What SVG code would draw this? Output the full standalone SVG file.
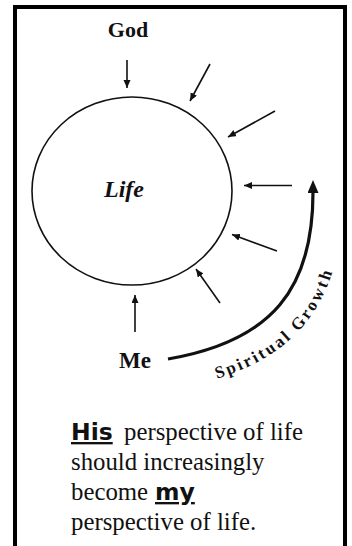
<svg xmlns="http://www.w3.org/2000/svg" width="352" height="546" viewBox="0 0 352 546">
  <style>
    .serifb { font-family: "Liberation Serif", Tinos, "Times New Roman", Times, "DejaVu Serif", serif; font-weight: bold; fill: #111; }
    .serif { font-family: "Liberation Serif", Tinos, "Times New Roman", Times, "DejaVu Serif", serif; fill: #111; font-size: 24.8px; }
    .sansb { font-family: "DejaVu Sans", "Liberation Sans", sans-serif; font-weight: bold; fill: #111; font-size: 23.5px; text-decoration: underline; }
    .conn { stroke: #111; stroke-width: 1.6; fill: none; marker-end: url(#ah); }
  </style>
  <defs>
    <marker id="ah" markerUnits="userSpaceOnUse" markerWidth="9" markerHeight="8" refX="8" refY="3.5" orient="auto">
      <path d="M0,0 L8,3.5 L0,7 z" fill="#111"/>
    </marker>
    <marker id="bigah" markerUnits="userSpaceOnUse" markerWidth="14" markerHeight="12" refX="1" refY="5.5" orient="auto">
      <path d="M0,0 L13,5.5 L0,11 z" fill="#111"/>
    </marker>
    <path id="sgpath" d="M173 389 C290 369 343 310 343 193"/>
  </defs>
  <rect width="352" height="546" fill="#fff"/>
  <path d="M15 546 V7 H345 V546" fill="none" stroke="#000" stroke-width="4"/>

  <g id="god">
    <text class="serifb" x="128" y="37" font-size="22" text-anchor="middle">God</text>
  </g>

  <g id="life">
    <ellipse cx="132" cy="191" rx="100" ry="94" fill="none" stroke="#111" stroke-width="1.6"/>
    <text class="serifb" x="124" y="197" font-size="24" font-style="italic" text-anchor="middle">Life</text>
  </g>

  <g id="me">
    <text class="serifb" x="135" y="368" font-size="23" text-anchor="middle">Me</text>
  </g>

  <g id="connectors">
    <line class="conn" x1="127" y1="60" x2="127" y2="88"/>
    <line class="conn" x1="210" y1="64" x2="190" y2="101"/>
    <line class="conn" x1="275" y1="111" x2="228" y2="137"/>
    <line class="conn" x1="292" y1="185.5" x2="244" y2="185.5"/>
    <line class="conn" x1="277" y1="251" x2="232" y2="234.5"/>
    <line class="conn" x1="220" y1="303" x2="196" y2="269"/>
    <line class="conn" x1="135" y1="332" x2="135" y2="295"/>
  </g>

  <g id="spiritual-growth">
    <path d="M168 359 C273 341 313 288 313 192" fill="none" stroke="#111" stroke-width="3.2" marker-end="url(#bigah)"/>
    <text class="serifb" font-size="17" letter-spacing="2.6">
      <textPath href="#sgpath" startOffset="45">Spiritual Growth</textPath>
    </text>
  </g>

  <g id="caption">
    <text class="sansb" x="71" y="440">His</text>
    <text class="serif" x="124" y="440">perspective of life</text>
    <text class="serif" x="71" y="470">should increasingly</text>
    <text class="serif" x="71" y="500">become</text>
    <text class="sansb" x="155" y="500">my</text>
    <text class="serif" x="71" y="530">perspective of life.</text>
  </g>
</svg>
